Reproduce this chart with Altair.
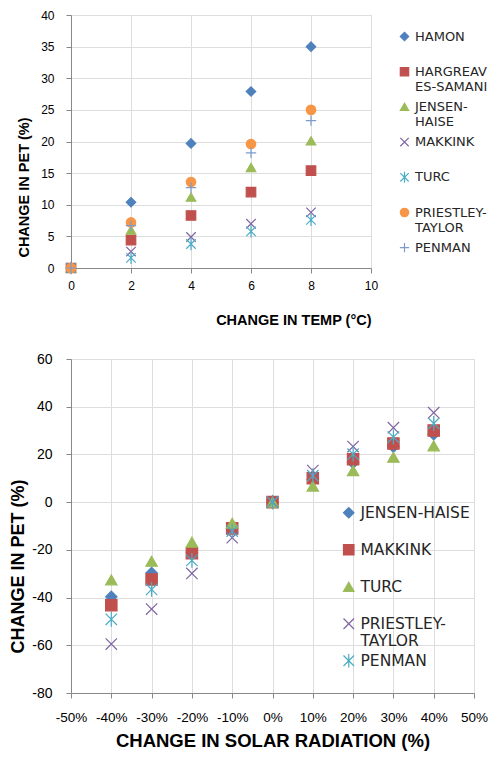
import altair as alt
import pandas as pd

FONT = "DejaVu Sans"

# ---------- top chart: change in temperature ----------
temp = [0, 2, 4, 6, 8]
t_series = ["HAMON", "HARGREAV|ES-SAMANI", "JENSEN-|HAISE", "MAKKINK", "TURC",
            "PRIESTLEY-|TAYLOR", "PENMAN"]
hamon = [0, 10.4, 19.7, 27.9, 35.0]
hargreaves = [0, 4.4, 8.3, 12.0, 15.4]
jensen_t = [0, 6.0, 11.2, 15.9, 20.1]
makkink_t = [0, 2.6, 4.9, 7.0, 8.8]
turc_t = [0, 1.6, 3.8, 5.8, 7.6]
priestley_t = [0, 7.2, 13.6, 19.6, 25.0]
penman_t = [0, 6.7, 12.7, 18.2, 23.3]
t_values = [hamon, hargreaves, jensen_t, makkink_t, turc_t, priestley_t, penman_t]

t_colors = ["#4F81BD", "#C0504D", "#9BBB59", "#8064A2", "#4BACC6", "#F79646", "#7E9BCB"]
t_fill = ["#4F81BD", "#C0504D", "#9BBB59", "transparent", "transparent", "#F79646", "transparent"]
XSHAPE = "M-1,-1L1,1M-1,1L1,-1"
STAR = "M-1,-1L1,1M-1,1L1,-1M0,-1.3L0,1.3"
PLUS = "M-1.1,0L1.1,0M0,-1.1L0,1.1"
t_shapes = ["diamond", "square", "triangle-up", XSHAPE, STAR, "circle", PLUS]

temp_ticks = [0, 2, 4, 6, 8, 10]
pet_ticks_t = [0, 5, 10, 15, 20, 25, 30, 35, 40]

rows = []
for name, vals in zip(t_series, t_values):
    for xv, yv in zip(temp, vals):
        rows.append({"series": name, "x": xv, "y": yv})
df_t = pd.DataFrame(rows)

# ---------- bottom chart: change in solar radiation ----------
rad = [-0.4, -0.3, -0.2, -0.1, 0.0, 0.1, 0.2, 0.3, 0.4]
b_series = ["JENSEN-HAISE", "MAKKINK", "TURC", "PRIESTLEY-|TAYLOR", "PENMAN"]
jensen_b = [-39.7, -29.7, -21.0, -11.0, 0, 9.5, 16.5, 23.2, 28.5]
makkink_b = [-43.2, -32.4, -21.4, -11.0, 0, 10.0, 18.0, 24.6, 30.0]
turc_b = [-32.6, -24.8, -16.8, -8.8, 0, 6.7, 13.2, 18.8, 23.6]
priestley_b = [-59.5, -44.8, -29.9, -14.9, 0, 13.2, 23.3, 31.2, 37.5]
penman_b = [-49.1, -36.6, -24.4, -12.1, 0, 11.1, 20.1, 27.3, 33.0]
b_values = [jensen_b, makkink_b, turc_b, priestley_b, penman_b]

b_colors = ["#4F81BD", "#C0504D", "#9BBB59", "#8064A2", "#4BACC6"]
b_fill = ["#4F81BD", "#C0504D", "#9BBB59", "transparent", "transparent"]
b_shapes = ["diamond", "square", "triangle-up", XSHAPE, STAR]

rad_ticks = [-0.5, -0.4, -0.3, -0.2, -0.1, 0.0, 0.1, 0.2, 0.3, 0.4, 0.5]
pet_ticks_b = [-80, -60, -40, -20, 0, 20, 40, 60]

rows = []
for name, vals in zip(b_series, b_values):
    for xv, yv in zip(rad, vals):
        rows.append({"series": name, "x": xv, "y": yv})
df_b = pd.DataFrame(rows)

# ---------- charts ----------
legend_t = alt.Legend(title=None, orient="none", legendX=327, legendY=15,
                      labelExpr="split(datum.label, '|')",
                      labelFont=FONT, labelFontSize=13, labelColor="#262626",
                      labelBaseline="middle", symbolSize=70, symbolStrokeWidth=1.2,
                      rowPadding=4.2, labelOffset=4, gridAlign="all")

top = alt.Chart(df_t).mark_point(opacity=1, size=90, strokeWidth=1.2).encode(
    x=alt.X("x:Q", scale=alt.Scale(domain=[0, 10], nice=False),
            axis=alt.Axis(values=temp_ticks, title="CHANGE IN TEMP (°C)",
                          titleAnchor="end", titlePadding=22, labelFlush=False,
                          labelFontSize=12, titleFontSize=14.5, labelPadding=7)),
    y=alt.Y("y:Q", scale=alt.Scale(domain=[0, 40], nice=False),
            axis=alt.Axis(values=pet_ticks_t, title="CHANGE IN PET (%)",
                          titleY=172, titlePadding=9,
                          labelFontSize=12, titleFontSize=14.5, labelPadding=12)),
    shape=alt.Shape("series:N", scale=alt.Scale(domain=t_series, range=t_shapes), legend=legend_t),
    stroke=alt.Stroke("series:N", scale=alt.Scale(domain=t_series, range=t_colors), legend=legend_t),
    fill=alt.Fill("series:N", scale=alt.Scale(domain=t_series, range=t_fill), legend=legend_t),
).properties(width=300, height=253)

legend_b = alt.Legend(title=None, orient="none", legendX=270, legendY=146,
                      labelExpr="split(datum.label, '|')",
                      labelFont=FONT, labelFontSize=15.5, labelColor="#262626",
                      labelBaseline="middle", symbolSize=110, symbolStrokeWidth=1.2,
                      rowPadding=1, labelOffset=4, gridAlign="all")

bottom = alt.Chart(df_b).mark_point(opacity=1, size=130, strokeWidth=1.2).encode(
    x=alt.X("x:Q", scale=alt.Scale(domain=[-0.5, 0.5], nice=False),
            axis=alt.Axis(values=rad_ticks, title="CHANGE IN SOLAR RADIATION (%)",
                          labelExpr="round(datum.value * 100) + '%'",
                          titlePadding=8, labelFontSize=13.5, titleFontSize=18.5,
                          labelPadding=12, labelOverlap=False, labelFlush=False)),
    y=alt.Y("y:Q", scale=alt.Scale(domain=[-80, 60], nice=False),
            axis=alt.Axis(values=pet_ticks_b, title="CHANGE IN PET (%)",
                          labelExpr="toString(datum.value)",
                          titleY=207, titlePadding=4,
                          labelFontSize=14, titleFontSize=18, labelPadding=14)),
    shape=alt.Shape("series:N", scale=alt.Scale(domain=b_series, range=b_shapes), legend=legend_b),
    stroke=alt.Stroke("series:N", scale=alt.Scale(domain=b_series, range=b_colors), legend=legend_b),
    fill=alt.Fill("series:N", scale=alt.Scale(domain=b_series, range=b_fill), legend=legend_b),
).properties(width=403, height=334)

chart = alt.vconcat(top, bottom, spacing=24).resolve_scale(
    shape="independent", stroke="independent", fill="independent"
).resolve_legend(
    shape="independent", stroke="independent", fill="independent"
).properties(
    padding={"left": 1, "top": 0, "right": 0, "bottom": 0}
).configure_view(
    stroke="#000000", strokeWidth=1
).configure_axis(
    grid=False, ticks=False, domainColor="#868686", domainWidth=1,
    labelFont=FONT, labelColor="#333333", titleFont=FONT, titleColor="#000000",
    titleFontWeight="bold"
).configure(background="white")

chart.save("out.html", embed_options={"renderer": "svg", "actions": False})
